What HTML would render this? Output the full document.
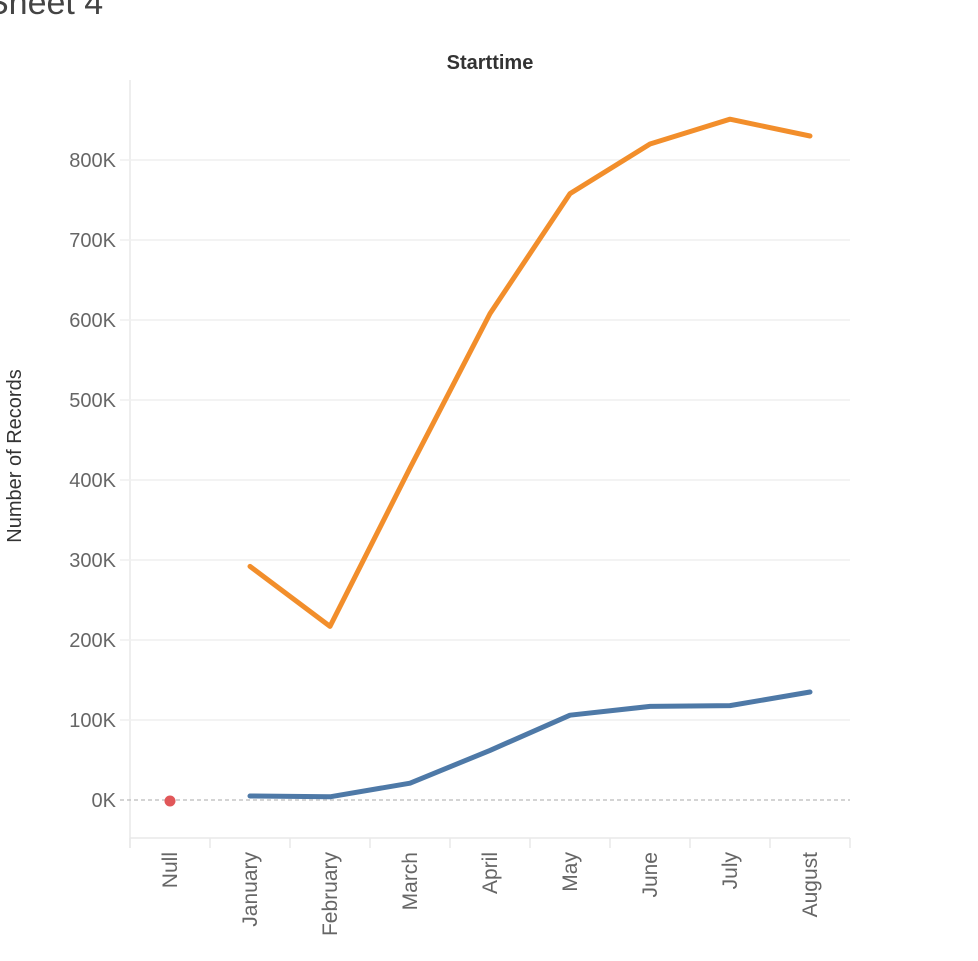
<!DOCTYPE html>
<html><head><meta charset="utf-8"><style>
body{margin:0;background:#fff;width:978px;height:956px;overflow:hidden;font-family:"Liberation Sans",sans-serif}
</style></head><body>
<svg width="978" height="956" xmlns="http://www.w3.org/2000/svg">
<text x="-14" y="14" font-size="34" fill="#444">Sheet 4</text>
<text x="490" y="69" font-size="20" fill="#333" text-anchor="middle" font-weight="bold">Starttime</text>
<text transform="translate(21,456) rotate(-90)" font-size="20" fill="#333" text-anchor="middle">Number of Records</text>
<g id="grid"></g><g id="ticks"></g><g id="marks"></g>
</svg>
<script>
const categories=["Null","January","February","March","April","May","June","July","August"];
const orangeValues=[null,292,217,415,608,758,820,851,830];
const blueValues=[null,5,4,21,62,106,117,118,135];
const nullValue=[0];
const yTicks=[0,100,200,300,400,500,600,700,800];
const yTickLabels=["0K","100K","200K","300K","400K","500K","600K","700K","800K"];
const NS="http://www.w3.org/2000/svg";
const x0=130,bw=80;
const x=i=>x0+bw*i+bw/2;
const y=v=>800-v*0.8;
function mk(t,a,p){const e=document.createElementNS(NS,t);for(const k in a)e.setAttribute(k,a[k]);p.appendChild(e);return e;}
const grid=document.getElementById('grid'),ticks=document.getElementById('ticks'),marks=document.getElementById('marks');
mk('line',{x1:x0,y1:80,x2:x0,y2:848,stroke:'#e8e8e8','stroke-width':1.5},grid);
mk('line',{x1:x0,y1:838,x2:x0+bw*categories.length,y2:838,stroke:'#e8e8e8','stroke-width':1.5},grid);
yTicks.forEach((v,i)=>{
 if(v!==0){const l=mk('line',{x1:120,y1:y(v),x2:850,y2:y(v),stroke:'#efefef','stroke-width':1.5},grid);
 
 }
 const t=mk('text',{x:116,y:y(v)+7,'font-size':20,fill:'#666','text-anchor':'end'},ticks);
 t.textContent=yTickLabels[i];
 
 
});
mk('line',{x1:120,y1:y(0),x2:850,y2:y(0),stroke:'#bbb','stroke-width':1.2,'stroke-dasharray':'4,3'},grid);
for(let i=0;i<=categories.length;i++)mk('line',{x1:x0+bw*i,y1:838,x2:x0+bw*i,y2:848,stroke:'#e8e8e8','stroke-width':1.5},grid);
categories.forEach((c,i)=>{
 const t=mk('text',{transform:`translate(${x(i)+7},852) rotate(-90)`,'font-size':21,fill:'#666','text-anchor':'end'},ticks);
 t.textContent=c;
 
 
});
function line(vals,color,name){
 const pts=vals.map((v,i)=>v==null?null:`${x(i)},${y(v)}`).filter(p=>p).join(' ');
 const p=mk('polyline',{points:pts,fill:'none',stroke:color,'stroke-width':5,'stroke-linejoin':'round','stroke-linecap':'round'},marks);
 
 
}
line(orangeValues,'#f28e2b','series-orange-line');
line(blueValues,'#4e79a7','series-blue-line');
const d=mk('circle',{cx:x(0),cy:y(nullValue[0])+1,r:5.5,fill:'#e15759'},marks);


</script>
</body></html>
